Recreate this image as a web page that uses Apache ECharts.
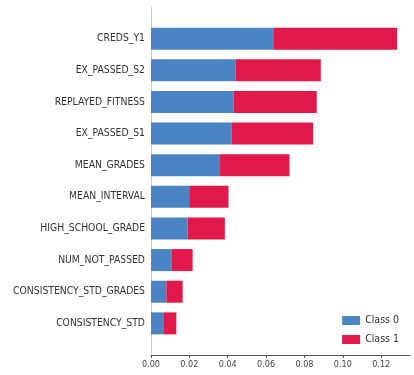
<!DOCTYPE html>
<html><head><meta charset="utf-8">
<script src="https://cdn.jsdelivr.net/npm/echarts@6/dist/echarts.min.js"></script>
<style>html,body{margin:0;padding:0;background:#fff}#c{width:414px;height:375px}</style>
</head><body><div id="c"></div>
<script>
const features = ['CREDS_Y1','EX_PASSED_S2','REPLAYED_FITNESS','EX_PASSED_S1','MEAN_GRADES','MEAN_INTERVAL','HIGH_SCHOOL_GRADE','NUM_NOT_PASSED','CONSISTENCY_STD_GRADES','CONSISTENCY_STD'];
const class0 = [0.0641,0.0442,0.0430,0.0419,0.0360,0.0199,0.0191,0.0106,0.0080,0.0064];
const class1 = [0.0642,0.0443,0.0434,0.0426,0.0362,0.0205,0.0194,0.0111,0.0085,0.0068];
const xTicks = [0,0.02,0.04,0.06,0.08,0.10,0.12];
const seriesNames = ['Class 0','Class 1'];

const cats = [''].concat(features, ['']);
const pad = v => [null].concat(v, [null]);
const font = '"DejaVu Sans Condensed", "DejaVu Sans", sans-serif';
const chart = echarts.init(document.getElementById('c'), null, {renderer:'canvas'});
chart.setOption({
  animation:false,
  grid:{left:151, right:4, top:7, bottom:20, containLabel:false},
  legend:{
    data:seriesNames, orient:'vertical', right:10, top:310, itemWidth:18, itemHeight:9, itemGap:8,
    icon:'rect', textStyle:{fontFamily:font, fontSize:10.5, color:'#333'}
  },
  xAxis:{
    type:'value', min:0, max:0.135, interval:0.02,
    splitLine:{show:false},
    axisLine:{show:true, lineStyle:{color:'#555', width:1}},
    axisTick:{show:true, length:3, customValues:xTicks, lineStyle:{color:'#555'}},
    axisLabel:{customValues:xTicks, fontFamily:font, fontSize:9, color:'#444', margin:5,
      formatter:v=>v.toFixed(2)}
  },
  yAxis:{
    type:'category', data:cats, inverse:true, boundaryGap:false,
    axisLine:{show:true, lineStyle:{color:'#ccc', width:1}},
    axisTick:{show:false},
    axisLabel:{fontFamily:font, fontSize:10.3, color:'#333', margin:6}
  },
  series:[
    {name:seriesNames[0], type:'bar', stack:'s', data:pad(class0), barWidth:22, itemStyle:{color:'#4b84c4'}},
    {name:seriesNames[1], type:'bar', stack:'s', data:pad(class1), barWidth:22, itemStyle:{color:'#e1194b'}}
  ]
});
</script></body></html>
